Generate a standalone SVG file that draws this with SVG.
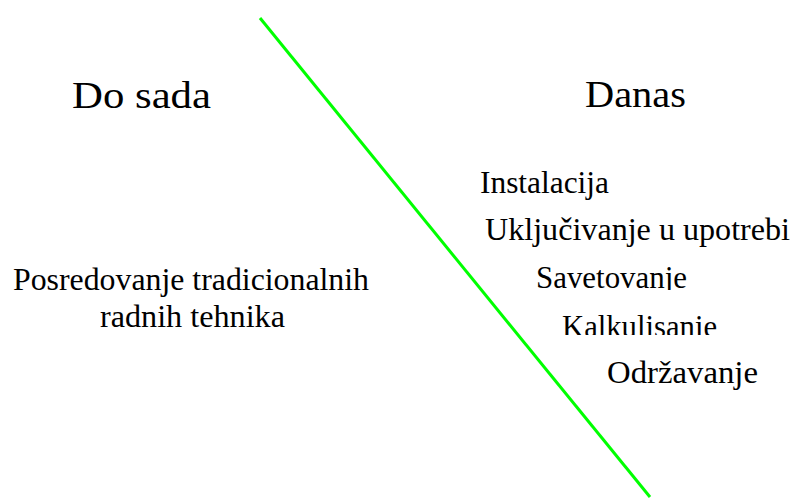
<svg xmlns="http://www.w3.org/2000/svg" width="793" height="499" viewBox="0 0 793 499">
<style>
text{font-family:"Liberation Serif","Times New Roman",Times,"DejaVu Serif","Noto Serif",serif;fill:#000}
.h{font-size:38px}
.t{font-size:31px}
</style>
<defs>
<clipPath id="c1"><rect x="0" y="0" width="793" height="290"/></clipPath>
<clipPath id="c2"><rect x="0" y="300" width="793" height="35"/></clipPath>
</defs>
<rect width="793" height="499" fill="#fff"/>
<g id="connectors">
<line x1="260" y1="18" x2="650" y2="497" stroke="#00ff00" stroke-width="3"/>
</g>
<g id="do-sada"><text class="h" x="72" y="108" textLength="139" lengthAdjust="spacingAndGlyphs">Do sada</text></g>
<g id="danas"><text class="h" x="585" y="107" textLength="101" lengthAdjust="spacingAndGlyphs">Danas</text></g>
<g id="posredovanje">
<text class="t" x="13" y="290" textLength="356" lengthAdjust="spacingAndGlyphs">Posredovanje tradicionalnih</text>
<text class="t" x="100" y="327" textLength="185" lengthAdjust="spacingAndGlyphs">radnih tehnika</text>
</g>
<g id="instalacija"><text class="t" x="480" y="193" textLength="129" lengthAdjust="spacingAndGlyphs">Instalacija</text></g>
<g id="ukljucivanje"><text class="t" x="485" y="240" textLength="305" lengthAdjust="spacingAndGlyphs">Uključivanje u upotrebi</text></g>
<g id="savetovanje" clip-path="url(#c1)"><text class="t" x="536" y="288" textLength="151" lengthAdjust="spacingAndGlyphs">Savetovanje</text></g>
<g id="kalkulisanje" clip-path="url(#c2)"><text class="t" x="562" y="337" textLength="155" lengthAdjust="spacingAndGlyphs">Kalkulisanje</text></g>
<g id="odrzavanje"><text class="t" x="607" y="383" textLength="151" lengthAdjust="spacingAndGlyphs">Održavanje</text></g>
</svg>
